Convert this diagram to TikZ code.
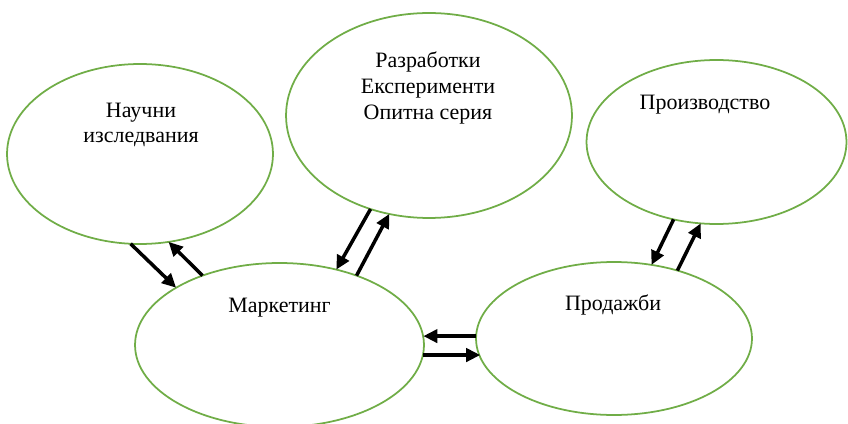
\documentclass[tikz,border=0pt]{standalone}
\usepackage{fontspec}
\setmainfont{Liberation Serif}
\definecolor{mygreen}{HTML}{70AD47}
\usetikzlibrary{shapes.geometric, arrows.meta}
\tikzset{
	ellnode/.style={
			shape=ellipse,
			draw=mygreen,
			line width=1pt,
			inner sep=0pt,
			outer sep=0pt
		},
	flowarrow/.style={
			line width=2pt,
			-{Triangle[length=8pt,width=7.5pt]}
		}
}
\tikzset{
	labeltext/.style={font=\fontsize{12.5}{14.6}\selectfont, align=center, inner sep=0pt}
}

\begin{document}
\begin{tikzpicture}[x=0.02cm, y=0.02cm]
              \useasboundingbox (0,0) rectangle (848,423);

              \node[ellnode, minimum width=5.32cm, minimum height=3.6cm] (ni) at (140,269) {};
              \node[ellnode, minimum width=5.72cm, minimum height=4.1cm] (rd) at (429,307.5) {};
              \node[ellnode, minimum width=5.2cm, minimum height=3.28cm] (pr) at (716.5,281) {};
              \node[ellnode, minimum width=5.78cm, minimum height=3.28cm] (mk) at (279.5,78) {};
              \node[ellnode, minimum width=5.52cm, minimum height=3.06cm] (pd) at (614,84.5) {};

              \node[labeltext] (tni) at (141,298) {Научни\\изследвания};
              \node[labeltext] (trd) at (428,335) {Разработки\\Експерименти\\Опитна серия};
              \node[labeltext] (tpr) at (705,318) {Производство};
              \node[labeltext] (tmk) at (279.5,115) {Маркетинг};
              \node[labeltext] (tpd) at (613,118) {Продажби};

              \draw[flowarrow] (ni.-96.6) -- (mk.151.7);
              \draw[flowarrow] (mk.138.2) -- (ni.-72.8);
              \draw[flowarrow] (rd.-122.7) -- (mk.53.3);
              \draw[flowarrow] (mk.42.9) -- (rd.-112);
              \draw[flowarrow] (pd.179) -- (pd.179 -| mk.3.6);
              \draw[flowarrow] (mk.-4.4) -- (mk.-4.4 -| pd.-172.6);
              \draw[flowarrow] (pr.-119.2) -- (pd.63.3);
              \draw[flowarrow] (pd.47.8) -- (pr.-101.7);
            \end{tikzpicture}
\end{document}
